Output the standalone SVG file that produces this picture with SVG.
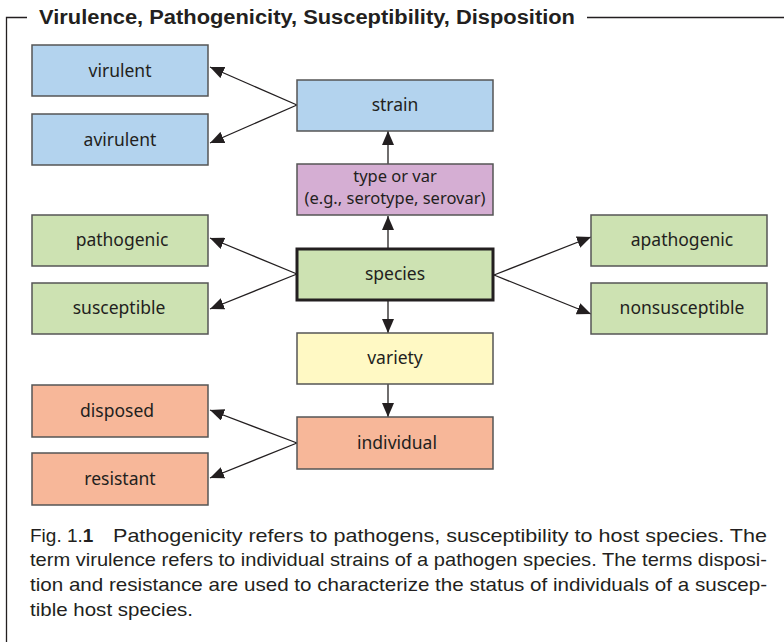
<svg xmlns="http://www.w3.org/2000/svg" width="784" height="642" viewBox="0 0 784 642">
<style>
.box{stroke:#555;stroke-width:1.5}
.lbl{font-family:"Noto Sans","Open Sans",sans-serif;font-size:17.5px;fill:#231f20;text-anchor:middle}
.lbl2{font-family:"Noto Sans","Open Sans",sans-serif;font-size:16.5px;fill:#231f20;text-anchor:middle}
.blue{fill:#b3d3ee}
.purple{fill:#d5aed3}
.green{fill:#cde2b2}
.yellow{fill:#fff9c4}
.salmon{fill:#f7b799}
.cap{font-family:"Liberation Sans",Arial,sans-serif;font-size:19px;fill:#231f20}
.conn{stroke:#231f20;stroke-width:1.3;fill:none;marker-end:url(#ah)}
</style>
<defs>
<marker id="ah" viewBox="0 0 14 12" refX="14" refY="6" markerWidth="14" markerHeight="12" markerUnits="userSpaceOnUse" orient="auto">
<path d="M0,0 L14,6 L0,12 Z" fill="#231f20"/>
</marker>
</defs>
<rect width="784" height="642" fill="#fff"/>
<g id="frame" stroke="#231f20" stroke-width="1.3" fill="none">
<path d="M784,17.5 L587,17.5"/>
<path d="M27,17.5 L6.5,17.5 L6.5,642"/>
</g>
<text x="39" y="24" font-family="'Liberation Sans',Arial,sans-serif" font-size="19.5" font-weight="bold" fill="#231f20" textLength="536" lengthAdjust="spacingAndGlyphs">Virulence, Pathogenicity, Susceptibility, Disposition</text>

<g id="connectors">
<path class="conn" d="M297,105 L210,67"/>
<path class="conn" d="M297,105 L210,143"/>
<path class="conn" d="M388,164 L388,131"/>
<path class="conn" d="M388,249 L388,216"/>
<path class="conn" d="M297,274 L210,238"/>
<path class="conn" d="M297,274 L210,309"/>
<path class="conn" d="M494,275 L591,237"/>
<path class="conn" d="M494,275 L591,314"/>
<path class="conn" d="M388,301 L388,333"/>
<path class="conn" d="M388,384 L388,417"/>
<path class="conn" d="M297,443 L210,410"/>
<path class="conn" d="M297,443 L210,478"/>
</g>

<g id="virulent"><rect class="box blue" x="32" y="45" width="176" height="51"/><text class="lbl" x="120" y="77">virulent</text></g>
<g id="avirulent"><rect class="box blue" x="32" y="114" width="176" height="51"/><text class="lbl" x="120" y="146">avirulent</text></g>
<g id="strain"><rect class="box blue" x="297" y="80" width="196" height="51"/><text class="lbl" x="395" y="111">strain</text></g>
<g id="type"><rect class="box purple" x="297" y="164" width="196" height="51"/><text class="lbl2" x="395" y="182">type or var</text><text class="lbl2" x="395" y="204">(e.g., serotype, serovar)</text></g>
<g id="pathogenic"><rect class="box green" x="32" y="215" width="176" height="51"/><text class="lbl" x="122" y="246">pathogenic</text></g>
<g id="susceptible"><rect class="box green" x="32" y="283" width="176" height="51"/><text class="lbl" x="119" y="314">susceptible</text></g>
<g id="species"><rect x="297" y="249" width="196" height="51" fill="#cde2b2" stroke="#231f20" stroke-width="3"/><text class="lbl" x="395" y="280">species</text></g>
<g id="apathogenic"><rect class="box green" x="591" y="215" width="176" height="51"/><text class="lbl" x="682" y="246">apathogenic</text></g>
<g id="nonsusceptible"><rect class="box green" x="591" y="283" width="176" height="51"/><text class="lbl" x="682" y="314">nonsusceptible</text></g>
<g id="variety"><rect class="box yellow" x="297" y="333" width="196" height="51"/><text class="lbl" x="395" y="364">variety</text></g>
<g id="individual"><rect class="box salmon" x="297" y="417" width="196" height="52"/><text class="lbl" x="397" y="449">individual</text></g>
<g id="disposed"><rect class="box salmon" x="32" y="385" width="176" height="52"/><text class="lbl" x="117" y="417">disposed</text></g>
<g id="resistant"><rect class="box salmon" x="32" y="453" width="176" height="52"/><text class="lbl" x="120" y="485">resistant</text></g>

<g id="caption">
<text class="cap" x="30" y="542">Fig. 1.<tspan font-weight="bold">1</tspan></text>
<text class="cap" x="113" y="542" textLength="654" lengthAdjust="spacingAndGlyphs">Pathogenicity refers to pathogens, susceptibility to host species. The</text>
<text class="cap" x="30" y="566" textLength="737" lengthAdjust="spacingAndGlyphs">term virulence refers to individual strains of a pathogen species. The terms disposi-</text>
<text class="cap" x="30" y="591" textLength="737" lengthAdjust="spacingAndGlyphs">tion and resistance are used to characterize the status of individuals of a suscep-</text>
<text class="cap" x="30" y="616" textLength="163" lengthAdjust="spacingAndGlyphs">tible host species.</text>
</g>
</svg>
